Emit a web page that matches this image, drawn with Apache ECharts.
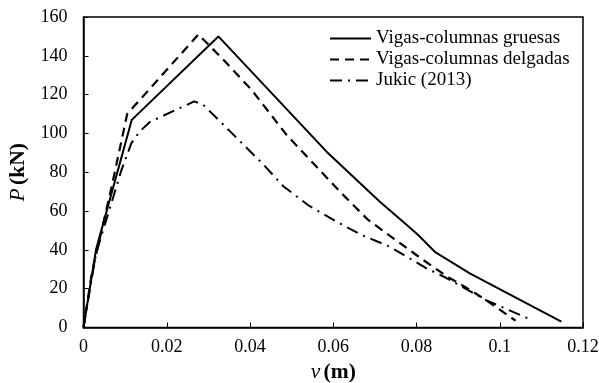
<!DOCTYPE html>
<html><head><meta charset="utf-8">
<script src="https://cdn.jsdelivr.net/npm/echarts@6/dist/echarts.min.js"></script>
<style>html,body{margin:0;padding:0;background:#fff}#c{width:599px;height:383px}</style>
</head><body><div id="c"></div>
<script>
var seriesNames = ['Vigas-columnas gruesas', 'Vigas-columnas delgadas', 'Jukic (2013)'];
var gruesasX = [0, 0.003, 0.0116, 0.0324, 0.0584, 0.0712, 0.0772, 0.0804, 0.0844, 0.0928, 0.1148];
var gruesasY = [0, 40, 107, 150, 90.6, 64.8, 53.7, 47.7, 39, 27.9, 3];
var delgadasX = [0, 0.002, 0.0067, 0.0105, 0.0276, 0.0336, 0.0404, 0.0488, 0.0552, 0.0616, 0.0684, 0.0816, 0.0872, 0.0936, 0.0968, 0.1038];
var delgadasY = [0, 28, 72, 110, 151, 138, 122.4, 99.2, 84.6, 70, 55.4, 34.8, 26.5, 18.4, 14, 3.5];
var jukicX = [0, 0.003, 0.0091, 0.0115, 0.0135, 0.016, 0.0266, 0.0288, 0.043, 0.048, 0.054, 0.0604, 0.0668, 0.0736, 0.0824, 0.0872, 0.0968, 0.107];
var jukicY = [0, 38, 81, 95, 101, 106, 116.5, 114.7, 84.5, 72.8, 63, 55, 47.7, 41.6, 30.5, 25.5, 14, 4.5];
var xTicks = [0, 0.02, 0.04, 0.06, 0.08, 0.1, 0.12];
var yTicks = [0, 20, 40, 60, 80, 100, 120, 140, 160];

function pairs(xs, ys) { return xs.map(function (x, i) { return [x, ys[i]]; }); }
var FONT = '"Liberation Serif", "Times New Roman", serif';
var chart = echarts.init(document.getElementById('c'), null, {renderer: 'canvas'});
var dashTypes = ['solid', [9, 6], [12, 6, 2, 6]];
var widths = [2, 2.2, 2];
var datas = [pairs(gruesasX, gruesasY), pairs(delgadasX, delgadasY), pairs(jukicX, jukicY)];
var nameRich = {
  i: {fontFamily: FONT, fontStyle: 'italic', fontSize: 21.5, color: '#000'},
  b: {fontFamily: FONT, fontWeight: 'bold', fontSize: 21.5, color: '#000'}
};
chart.setOption({
  animation: false,
  grid: {left: 83.5, right: 16, top: 17, bottom: 55.5, show: true, borderColor: '#000', borderWidth: 1.5,
    containLabel: false, outerBoundsMode: 'none'},
  legend: {
    orient: 'vertical', left: 329, top: 29, padding: 0, itemWidth: 41, itemHeight: 14, itemGap: 2,
    data: seriesNames,
    itemStyle: {opacity: 0},
    textStyle: {fontFamily: FONT, fontSize: 19, color: '#000', lineHeight: 17}
  },
  xAxis: {
    type: 'value', min: xTicks[0], max: xTicks[xTicks.length - 1], interval: 0.02,
    name: '{i|v} {b|(m)}', nameLocation: 'middle', nameGap: 19,
    nameTextStyle: {rich: nameRich},
    axisLine: {show: true, lineStyle: {color: '#000', width: 1.5}},
    axisTick: {show: true, inside: true, length: 5, lineStyle: {color: '#000', width: 1}},
    splitLine: {show: false},
    axisLabel: {fontFamily: FONT, fontSize: 18, color: '#000', margin: 11,
      formatter: function (v) { return String(Math.round(v * 100) / 100); }}
  },
  yAxis: {
    type: 'value', min: yTicks[0], max: yTicks[yTicks.length - 1], interval: 20,
    name: '{i|P} {b|(kN)}', nameLocation: 'middle', nameGap: 46, nameRotate: 90,
    nameTextStyle: {rich: nameRich},
    axisLine: {show: true, lineStyle: {color: '#000', width: 1.5}},
    axisTick: {show: true, inside: true, length: 5, lineStyle: {color: '#000', width: 1}},
    splitLine: {show: false},
    axisLabel: {fontFamily: FONT, fontSize: 18, color: '#000', margin: 16}
  },
  series: seriesNames.map(function (n, k) {
    return {
      name: n, type: 'line', data: datas[k], symbol: 'none', showSymbol: false,
      lineStyle: {color: '#000', width: widths[k], type: dashTypes[k]},
      itemStyle: {color: '#000'}
    };
  })
});
</script></body></html>
